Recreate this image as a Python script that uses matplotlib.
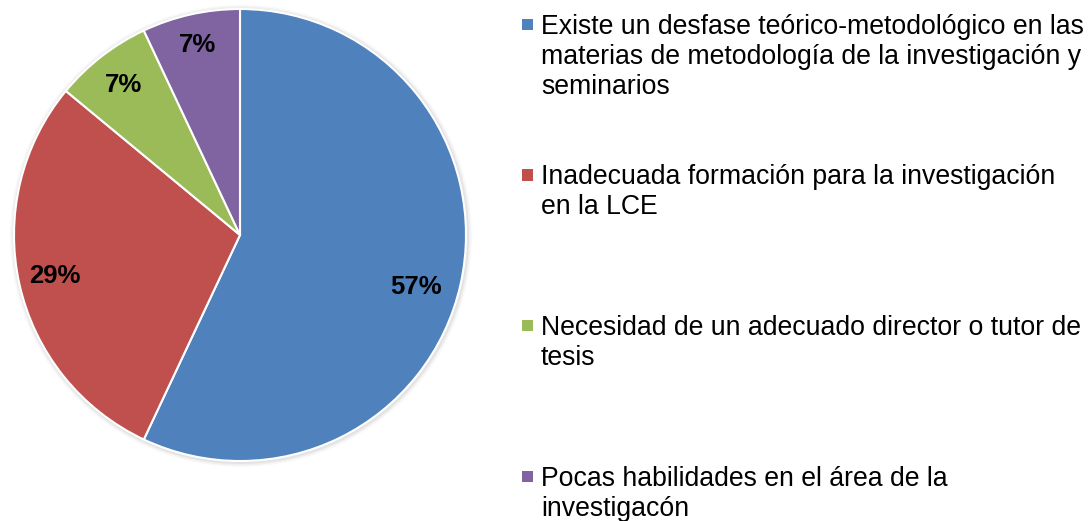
import matplotlib.pyplot as plt
from matplotlib.patches import Rectangle, Circle

plt.rcParams['font.family'] = ['Liberation Sans', 'DejaVu Sans']

# datos
categorias = [
    "Existe un desfase teórico-metodológico en las\nmaterias de metodología de la investigación y\nseminarios",
    "Inadecuada formación para la investigación\nen la LCE",
    "Necesidad de un adecuado director o tutor de\ntesis",
    "Pocas habilidades en el área de la\ninvestigacón",
]
valores = [57, 29, 7, 7]
colores = ["#4F81BD", "#C0504D", "#9BBB59", "#8064A2"]

W, H = 1092, 521
fig = plt.figure(figsize=(W / 100, H / 100), dpi=100)

# pie: centro (240, 235) px, radio 226 px
cx, cy, r = 240, 235, 226
ax = fig.add_axes([0, 0, 1, 1])

# sombra suave alrededor del pastel
for k, a in [(1.022, 0.05), (1.015, 0.07), (1.009, 0.10)]:
    ax.add_patch(Circle((0.004, -0.004), k, facecolor='#808080',
                        edgecolor='none', alpha=a, zorder=0))

wedges, texts, autotexts = ax.pie(
    valores, colors=colores, startangle=90, counterclock=False,
    autopct='%1.0f%%', pctdistance=0.84,
    wedgeprops=dict(edgecolor='white', linewidth=1.5, zorder=2),
    textprops=dict(fontsize=18.5, fontweight='bold', color='black'),
)
# la etiqueta del 57% queda un poco más abajo en el original
autotexts[0].set_position((0.78, -0.23))
autotexts[3].set_position((-0.19, 0.84))
for t in autotexts:
    t.set_zorder(3)
ax.set_xlim(-1.03, 1.03)
ax.set_ylim(-1.03, 1.03)
ax.set_aspect('equal')
ax.set_position([(cx - r * 1.03) / W, (H - cy - r * 1.03) / H,
                 2 * r * 1.03 / W, 2 * r * 1.03 / H])

# leyenda manual
y0 = 14        # borde superior de la primera línea (px)
paso = 150.5   # distancia entre elementos (px)
for i, (lab, col) in enumerate(zip(categorias, colores)):
    y = y0 + i * paso
    fig.add_artist(Rectangle((522 / W, (H - y - 16) / H), 11 / W, 11 / H,
                             transform=fig.transFigure, facecolor=col,
                             edgecolor='none'))
    fig.text(541 / W, (H - y) / H, lab, fontsize=19.2, va='top',
             ha='left', linespacing=1.2)

fig.savefig("out.png", dpi=100)
